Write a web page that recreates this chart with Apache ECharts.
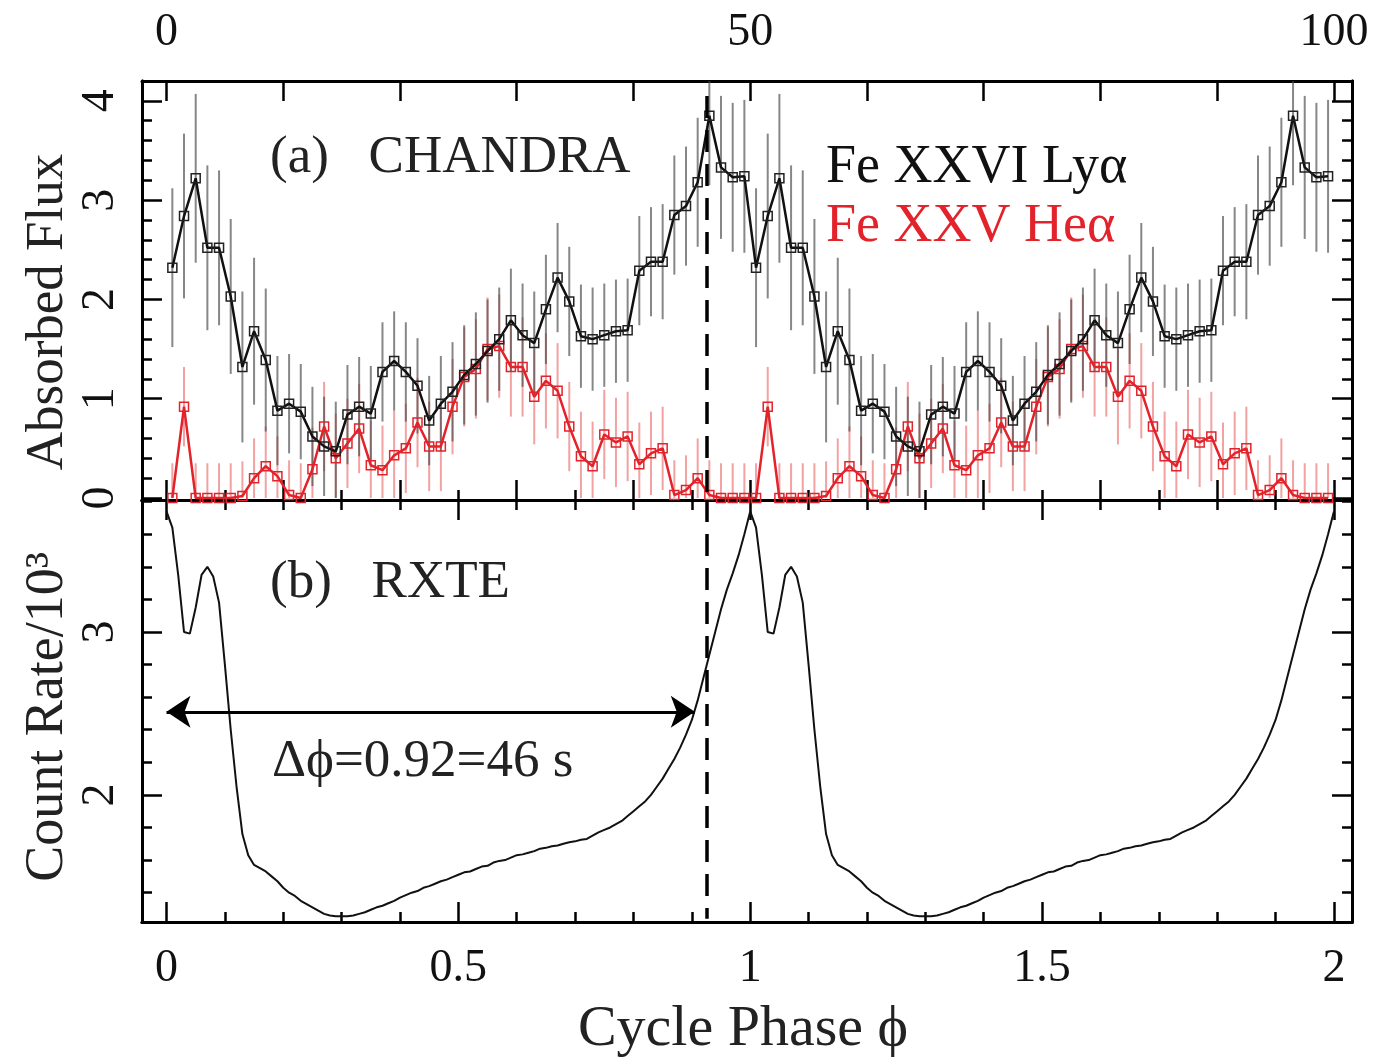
<!DOCTYPE html>
<html><head><meta charset="utf-8">
<script src="https://cdn.jsdelivr.net/npm/echarts@6/dist/echarts.min.js"></script>
<style>html,body{margin:0;padding:0;background:#fff}#c{width:1397px;height:1064px}</style>
</head><body><div id="c"></div>
<script>
// ---- DATA (one folded cycle, 50 one-second bins; plotted twice) ----
const binsPerCycle = 50;
const feXXVI = [2.32,2.84,3.22,2.52,2.52,2.03,1.32,1.68,1.39,0.88,
                0.95,0.87,0.62,0.52,0.47,0.84,0.92,0.85,1.27,1.38,
                1.27,1.13,0.78,0.95,1.07,1.24,1.35,1.48,1.60,1.79,
                1.64,1.56,1.90,2.22,1.98,1.63,1.60,1.64,1.68,1.69,
                2.29,2.38,2.38,2.85,2.94,3.18,3.85,3.33,3.23,3.24];
const feXXVIErr = [0.80,0.83,0.85,0.83,0.78,0.78,0.76,0.74,0.72,0.55,
                   0.50,0.48,0.50,0.50,0.50,0.50,0.50,0.48,0.50,0.50,
                   0.50,0.48,0.45,0.48,0.50,0.50,0.52,0.52,0.52,0.52,
                   0.52,0.52,0.55,0.55,0.55,0.52,0.52,0.52,0.52,0.52,
                   0.55,0.55,0.58,0.60,0.60,0.65,0.70,0.72,0.75,0.77];
const feXXV = [0.00,0.92,0.00,0.00,0.00,0.00,0.02,0.20,0.32,0.22,
               0.03,0.00,0.29,0.72,0.40,0.55,0.70,0.33,0.28,0.43,
               0.50,0.76,0.52,0.52,0.92,1.22,1.30,1.50,1.53,1.32,
               1.32,1.02,1.18,1.08,0.72,0.42,0.32,0.64,0.56,0.62,
               0.34,0.45,0.50,0.03,0.08,0.20,0.03,0.00,0.00,0.00];
const feXXVErr = [0.35,0.40,0.35,0.35,0.35,0.35,0.35,0.40,0.40,0.40,
                  0.35,0.35,0.42,0.45,0.45,0.45,0.45,0.45,0.45,0.45,
                  0.45,0.45,0.45,0.45,0.48,0.50,0.50,0.52,0.52,0.50,
                  0.50,0.48,0.48,0.48,0.45,0.45,0.45,0.45,0.45,0.45,
                  0.42,0.42,0.42,0.35,0.35,0.40,0.35,0.35,0.35,0.35];
// RXTE count rate (units of 10^3) at phase 0.00 ... 0.99 step 0.01
const rxteStep = 0.01;
const rxteRate = [3.74,3.64,3.35,3.00,2.99,3.15,3.35,3.40,3.34,3.18,
                  2.80,2.40,2.05,1.76,1.63,1.57,1.55,1.53,1.50,1.47,
                  1.43,1.40,1.38,1.35,1.33,1.31,1.29,1.27,1.26,1.255,
                  1.255,1.255,1.26,1.27,1.28,1.295,1.31,1.32,1.335,1.35,
                  1.37,1.385,1.40,1.41,1.43,1.44,1.455,1.47,1.48,1.495,
                  1.51,1.525,1.53,1.545,1.56,1.565,1.585,1.595,1.60,1.615,
                  1.63,1.635,1.645,1.655,1.67,1.675,1.685,1.69,1.70,1.71,
                  1.715,1.725,1.73,1.75,1.77,1.785,1.80,1.82,1.84,1.87,
                  1.90,1.93,1.96,2.00,2.05,2.10,2.16,2.22,2.29,2.37,
                  2.46,2.58,2.72,2.86,3.00,3.14,3.26,3.36,3.47,3.60];
const cycles = 2;
const shiftPhase = 0.925;                  // dashed line
const arrowY = 2.51, arrowFrom = 0.0, arrowTo = 0.905;
// tick values
const phaseMinorTicks = [0,0.1,0.2,0.3,0.4,0.5,0.6,0.7,0.8,0.9,1,1.1,1.2,1.3,1.4,1.5,1.6,1.7,1.8,1.9,2];
const phaseMajorTicksA = [0,0.2,0.4,0.6,0.8,1,1.2,1.4,1.6,1.8,2];
const phaseMajorTicksB = [0,0.5,1,1.5,2];
const secTicks = [0,10,20,30,40,50,60,70,80,90,100];
const secLabels = [0,50,100];
const fluxMinorTicks = [0,0.2,0.4,0.6,0.8,1,1.2,1.4,1.6,1.8,2,2.2,2.4,2.6,2.8,3,3.2,3.4,3.6,3.8,4];
const fluxMajorTicks = [0,1,2,3,4];
const rateMinorTicks = [1.4,1.6,1.8,2,2.2,2.4,2.6,2.8,3,3.2,3.4,3.6,3.8];
const rateMajorTicks = [2,3];

// ---- build plotted arrays ----
function folded(vals){ const out=[]; for(let c=0;c<cycles;c++) for(let i=0;i<vals.length;i++) out.push([c+(i+0.5)/binsPerCycle, vals[i]]); return out; }
function foldedErr(vals, errs){ const out=[]; for(let c=0;c<cycles;c++) for(let i=0;i<vals.length;i++) out.push([c+(i+0.5)/binsPerCycle, Math.max(0, vals[i]-errs[i]), vals[i]+errs[i]]); return out; }
const rxteData = [];
for(let c=0;c<cycles;c++) for(let i=0;i<rxteRate.length;i++) rxteData.push([c + i*rxteStep, rxteRate[i]]);
rxteData.push([cycles, rxteRate[0]]);

const XMIN = -0.042, XMAX = 2.031;
const FONT = 'Liberation Serif';
const RED = '#e3232b';
const LW = 3;

function errRender(color){
  return function(params, api){
    const p1 = api.coord([api.value(0), api.value(1)]);
    const p2 = api.coord([api.value(0), api.value(2)]);
    return {type:'line', shape:{x1:p1[0],y1:p1[1],x2:p2[0],y2:p2[1]}, style:{stroke:color, lineWidth:2}};
  };
}
function xAx(grid, pos, ticks, len, opts){
  return Object.assign({type:'value', gridIndex:grid, position:pos, min:XMIN, max:XMAX,
    axisLine:{show:true, onZero:false, lineStyle:{color:'#000', width:LW}},
    axisTick:{show:true, inside:true, length:len, customValues:ticks, lineStyle:{color:'#000', width:2.5}},
    axisLabel:{show:false}, splitLine:{show:false}}, opts||{});
}
function yAx(grid, pos, min, max, ticks, len, opts){
  return Object.assign({type:'value', gridIndex:grid, position:pos, min:min, max:max,
    axisLine:{show:true, onZero:false, lineStyle:{color:'#000', width:LW}},
    axisTick:{show:true, inside:true, length:len, customValues:ticks, lineStyle:{color:'#000', width:2.5}},
    axisLabel:{show:false}, splitLine:{show:false}}, opts||{});
}
const tickLabel = {fontFamily:FONT, fontSize:46, color:'#111'};
const TXT = '53px "Liberation Serif"';

const chart = echarts.init(document.getElementById('c'), null, {renderer:'canvas'});
chart.setOption({
  animation:false,
  backgroundColor:'#fff',
  grid:[
    {left:142, top:81, width:1210, height:419},
    {left:142, top:500, width:1210, height:422}
  ],
  xAxis:[
    xAx(0,'bottom',phaseMinorTicks,10),
    xAx(0,'bottom',phaseMajorTicksA,20),
    Object.assign(xAx(0,'top',secTicks,20),{min:XMIN*50,max:XMAX*50,
      axisLabel:Object.assign({show:true, customValues:secLabels, margin:25}, tickLabel)}),
    xAx(1,'top',phaseMinorTicks,10),
    xAx(1,'top',phaseMajorTicksB,20),
    xAx(1,'bottom',phaseMinorTicks,10),
    xAx(1,'bottom',phaseMajorTicksB,20,{axisLabel:Object.assign({show:true, customValues:phaseMajorTicksB, margin:24}, tickLabel)})
  ],
  yAxis:[
    yAx(0,'left',-0.02,4.2,fluxMinorTicks,10),
    yAx(0,'left',-0.02,4.2,fluxMajorTicks,20,{axisLabel:Object.assign({show:true, customValues:fluxMajorTicks, rotate:90, margin:18}, tickLabel)}),
    yAx(0,'right',-0.02,4.2,fluxMinorTicks,10),
    yAx(0,'right',-0.02,4.2,fluxMajorTicks,20),
    yAx(1,'left',1.22,3.81,rateMinorTicks,10),
    yAx(1,'left',1.22,3.81,rateMajorTicks,20,{axisLabel:Object.assign({show:true, customValues:rateMajorTicks, rotate:90, margin:18}, tickLabel)}),
    yAx(1,'right',1.22,3.81,rateMinorTicks,10),
    yAx(1,'right',1.22,3.81,rateMajorTicks,20)
  ],
  series:[
    {type:'custom', name:'FeXXV err', xAxisIndex:0, yAxisIndex:0, clip:true, silent:true, z:1,
     renderItem:errRender('rgba(232,70,70,0.5)'), encode:{x:0,y:[1,2]}, data:foldedErr(feXXV, feXXVErr)},
    {type:'custom', name:'FeXXVI err', xAxisIndex:0, yAxisIndex:0, clip:true, silent:true, z:2,
     renderItem:errRender('rgba(70,70,70,0.65)'), encode:{x:0,y:[1,2]}, data:foldedErr(feXXVI, feXXVIErr)},
    {type:'line', name:'Fe XXV Heα', xAxisIndex:0, yAxisIndex:0, z:3, silent:true,
     data:folded(feXXV), symbol:'rect', symbolSize:9, showSymbol:true,
     lineStyle:{color:RED, width:2.5}, itemStyle:{color:'rgba(0,0,0,0)', borderColor:RED, borderWidth:1.5}},
    {type:'line', name:'Fe XXVI Lyα', xAxisIndex:0, yAxisIndex:0, z:4, silent:true,
     data:folded(feXXVI), symbol:'rect', symbolSize:9, showSymbol:true,
     lineStyle:{color:'#111', width:2.5}, itemStyle:{color:'rgba(0,0,0,0)', borderColor:'#222', borderWidth:1.5},
     markLine:{silent:true, symbol:['none','none'], label:{show:false},
       lineStyle:{color:'#000', width:3.5, type:[22,12]},
       data:[[{coord:[shiftPhase,4.05]},{coord:[shiftPhase,-0.02]}]]}},
    {type:'line', name:'RXTE', xAxisIndex:5, yAxisIndex:4, z:4, silent:true,
     data:rxteData, showSymbol:false, symbol:'none',
     lineStyle:{color:'#111', width:2},
     markLine:{silent:true, label:{show:false}, symbol:['none','none'],
       lineStyle:{color:'#000', width:3.5, type:[22,12]},
       data:[
         [{coord:[shiftPhase,3.81]},{coord:[shiftPhase,1.24]}],
         [{coord:[arrowFrom,arrowY], symbol:'arrow', symbolSize:24, lineStyle:{type:'solid', width:3}},
          {coord:[arrowTo,arrowY], symbol:'arrow', symbolSize:24}]
       ]}}
  ],
  graphic:[
    {type:'text', x:270, y:158, style:{text:'(a)   CHANDRA', font:TXT, fill:'#222', align:'left', verticalAlign:'middle'}},
    {type:'text', x:826, y:168, style:{text:'Fe XXVI Lyα', font:'54px "Liberation Serif"', fill:'#111', align:'left', verticalAlign:'middle'}},
    {type:'text', x:826, y:227, style:{text:'Fe XXV Heα', font:'54px "Liberation Serif"', fill:RED, align:'left', verticalAlign:'middle'}},
    {type:'text', x:270, y:583, style:{text:'(b)   RXTE', font:TXT, fill:'#222', align:'left', verticalAlign:'middle'}},
    {type:'text', x:272, y:762, style:{text:'Δϕ=0.92=46 s', font:TXT, fill:'#222', align:'left', verticalAlign:'middle'}},
    {type:'text', x:48, y:312, rotation:Math.PI/2, style:{text:'Absorbed Flux', font:TXT, fill:'#222', align:'center', verticalAlign:'middle'}},
    {type:'text', x:48, y:717, rotation:Math.PI/2, style:{text:'Count Rate/10³', font:'54px "Liberation Serif"', fill:'#222', align:'center', verticalAlign:'middle'}},
    {type:'text', x:743, y:1030, style:{text:'Cycle Phase ϕ', font:'58px "Liberation Serif"', fill:'#222', align:'center', verticalAlign:'middle'}}
  ]
});
</script>
</body></html>
